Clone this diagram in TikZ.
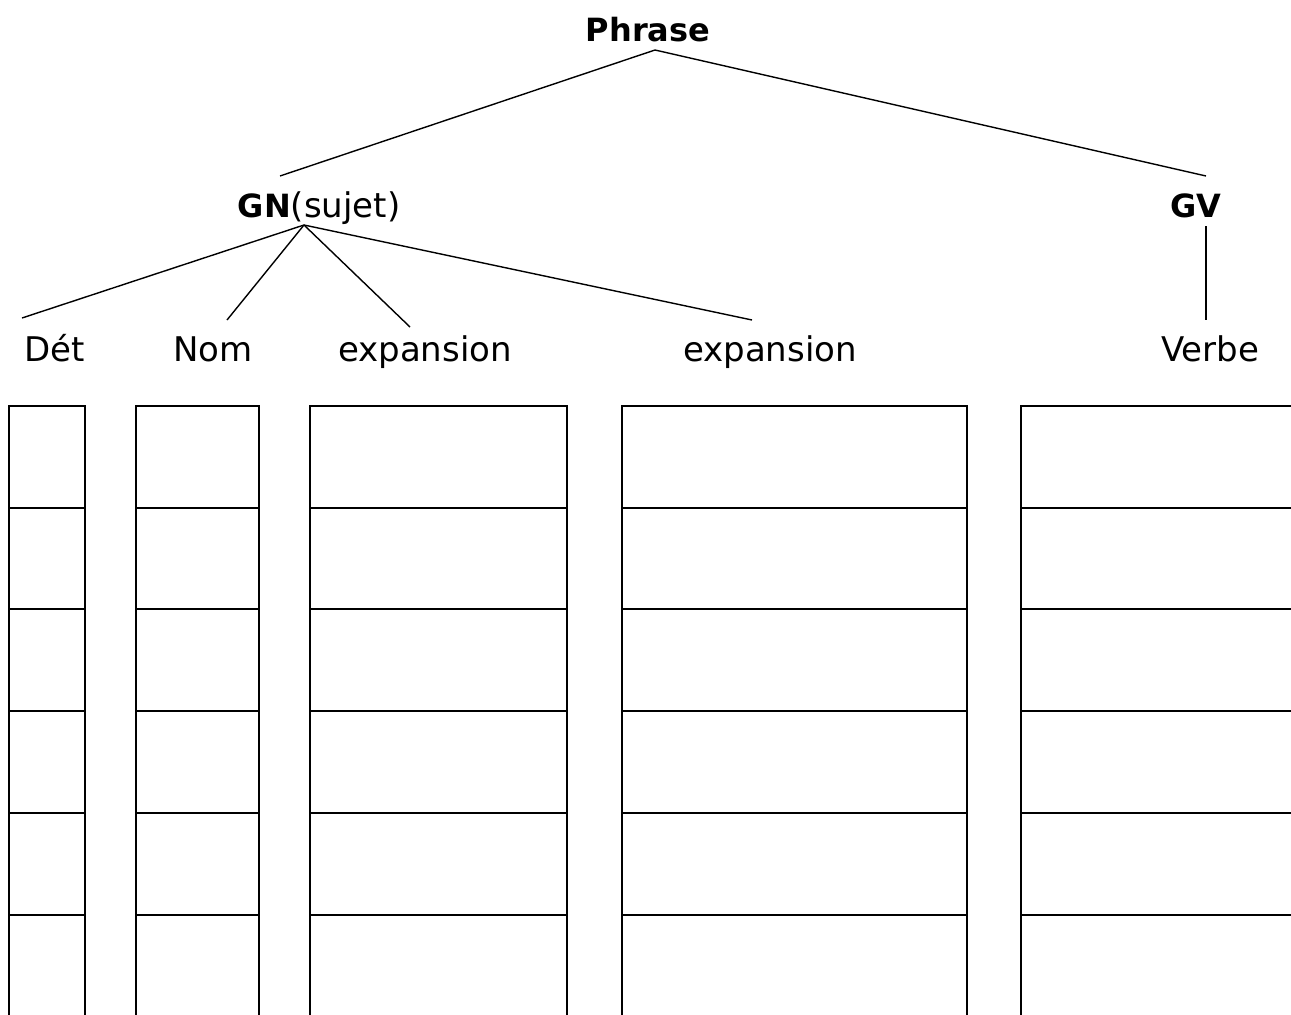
\documentclass[tikz,border=0pt]{standalone}
\usepackage{fontspec}
\setmainfont{DejaVu Sans}
\usepackage{tikz}
\usetikzlibrary{positioning}

\tikzset{
  mot/.style={anchor=base, inner sep=0pt, font=\fontsize{34}{40}\selectfont},
  tete/.style={anchor=base, inner sep=0pt, font=\fontsize{32}{38}\selectfont\bfseries},
  branche/.style={line width=1.4pt},
  case/.style={line width=2.3pt}
}

\begin{document}
\begin{tikzpicture}[x=1pt, y=-1pt]
    \useasboundingbox (0,0) rectangle (1291,1015);
    % Arbre de la phrase
    \node[tete] (phrase) at (648,41) {Phrase};
    \node[mot] (gn) at (319,217) {\textbf{\fontsize{32}{38}\selectfont GN}(sujet)};
    \node[tete] (gv) at (1196,217) {GV};
    \node[mot] (det) at (55,361) {Dét};
    \node[mot] (nom) at (213,361) {Nom};
    \node[mot] (exp1) at (425,361) {expansion};
    \node[mot] (exp2) at (770,361) {expansion};
    \node[mot] (verbe) at (1210,361) {Verbe};

    \coordinate (phrase-s) at (655,50);
    \coordinate (gn-n) at (280,176);
    \coordinate (gn-s) at (304,225);
    \coordinate (gv-n) at (1206,176);
    \coordinate (gv-s) at (1206,226);
    \coordinate (det-n) at (22,318);
    \coordinate (nom-n) at (227,320);
    \coordinate (exp1-n) at (410,327);
    \coordinate (exp2-n) at (752,320);
    \coordinate (verbe-n) at (1206,320);

    \draw[branche] (gn-n) -- (phrase-s) -- (gv-n);
    \foreach \fils in {det-n, nom-n, exp1-n, exp2-n}
        \draw[branche] (gn-s) -- (\fils);
    \draw[branche] (gv-s) -- (verbe-n);

    % Colonnes a remplir
    \foreach \xa/\xb in {9/85, 136/259, 310/567, 622/967} {
        \draw[case] (\xa,1015) -- (\xa,406) -- (\xb,406) -- (\xb,1015);
        \foreach \y in {508,609,711,813,915}
            \draw[case] (\xa,\y) -- (\xb,\y);
    }
    \draw[case] (1021,1015) -- (1021,406) -- (1291,406);
    \foreach \y in {508,609,711,813,915}
        \draw[case] (1021,\y) -- (1291,\y);
\end{tikzpicture}
\end{document}
